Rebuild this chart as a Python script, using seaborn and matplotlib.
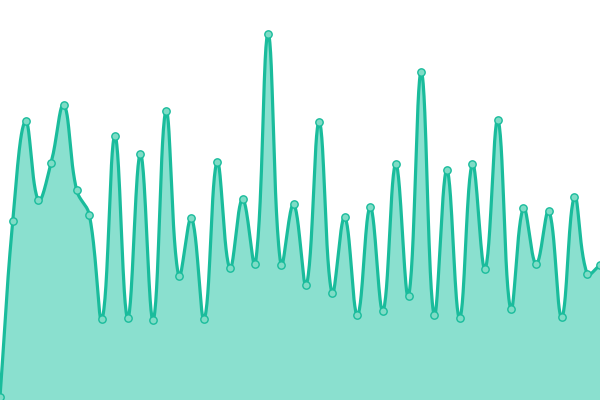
import numpy as np
import pandas as pd
import matplotlib
matplotlib.use("Agg")
import matplotlib.pyplot as plt
import seaborn as sns

values = [3, 179, 279, 200, 237, 295, 210, 185, 81, 264, 82, 246, 80, 289,
          124, 182, 81, 238, 132, 201, 136, 366, 135, 196, 115, 278, 107, 183,
          85, 193, 89, 236, 104, 328, 85, 230, 82, 236, 131, 280, 91, 192, 136,
          189, 83, 203, 126, 135]
index = list(range(len(values)))

LINE = "#1abc9c"
FILL = "#8ae0cf"
MARK = "#7fdcc6"

W, H = 600, 400
xs_px = W / (len(values) - 1)


def spline(x, y, t=0.4, n=30):
    px = np.array(x, float) * xs_px
    py = np.array(y, float)
    m = len(px)
    cp_prev = np.zeros((m, 2)); cp_next = np.zeros((m, 2))
    for i in range(m):
        p1 = np.array([px[i], py[i]])
        p0 = np.array([px[max(i - 1, 0)], py[max(i - 1, 0)]])
        p2 = np.array([px[min(i + 1, m - 1)], py[min(i + 1, m - 1)]])
        d01 = np.hypot(*(p1 - p0)); d12 = np.hypot(*(p2 - p1))
        tot = d01 + d12
        s01 = d01 / tot if tot else 0; s12 = d12 / tot if tot else 0
        cp_prev[i] = p1 - t * s01 * (p2 - p0)
        cp_next[i] = p1 + t * s12 * (p2 - p0)
    outx, outy = [], []
    u = np.linspace(0, 1, n, endpoint=False)
    for i in range(m - 1):
        a = np.array([px[i], py[i]]); b = cp_next[i]; c = cp_prev[i + 1]
        d = np.array([px[i + 1], py[i + 1]])
        pts = ((1 - u) ** 3)[:, None] * a + (3 * (1 - u) ** 2 * u)[:, None] * b \
            + (3 * (1 - u) * u ** 2)[:, None] * c + (u ** 3)[:, None] * d
        outx.extend(pts[:, 0]); outy.extend(pts[:, 1])
    outx.append(px[-1]); outy.append(py[-1])
    return np.array(outx) / xs_px, np.clip(np.array(outy), 0, H)


sx, sy = spline(index, values)
curve = pd.DataFrame({"x": sx, "y": sy})
pts = pd.DataFrame({"x": index, "y": values})

sns.set_style("white")
fig = plt.figure(figsize=(6, 4), dpi=100)
ax = fig.add_axes([0, 0, 1, 1])
ax.fill_between(curve["x"], curve["y"], 0, color=FILL, linewidth=0)
sns.lineplot(data=curve, x="x", y="y", ax=ax, color=LINE, linewidth=2.3,
             sort=False, estimator=None)
sns.scatterplot(data=pts, x="x", y="y", ax=ax, color=MARK, edgecolor=LINE,
                s=28, linewidth=1.0, zorder=5)
ax.set_xlim(0, len(values) - 1)
ax.set_ylim(0, H)
ax.axis("off")
fig.savefig("out.png", dpi=100)
